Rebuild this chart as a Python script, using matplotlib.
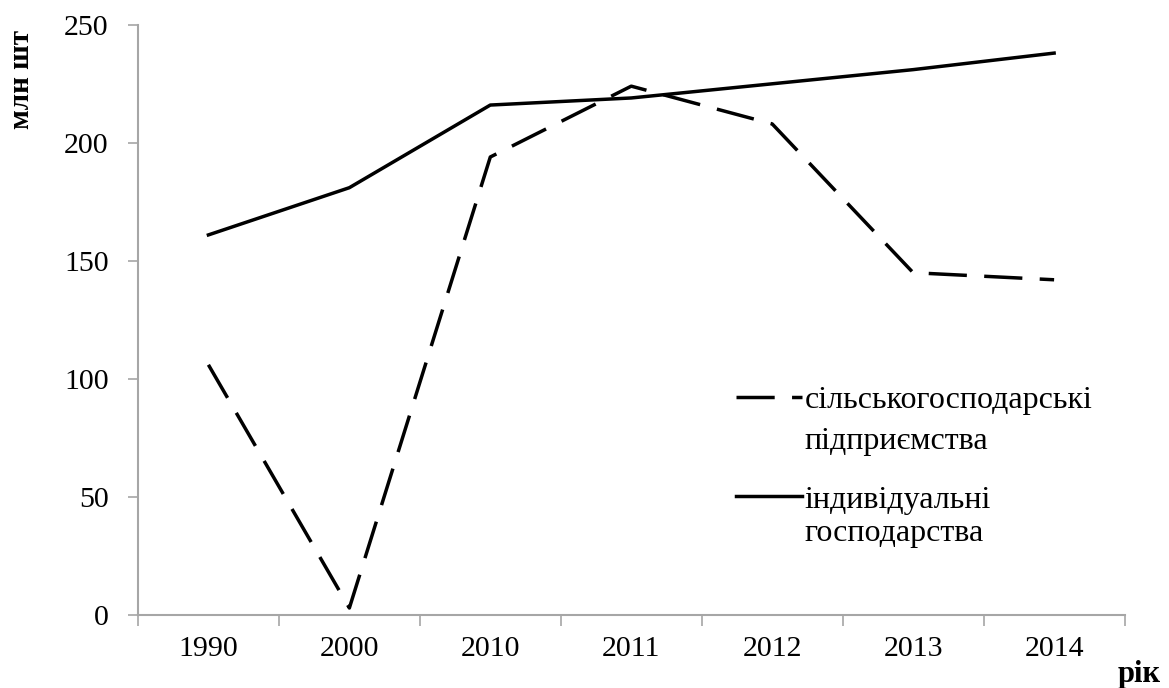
import matplotlib
matplotlib.use("Agg")
import matplotlib.pyplot as plt
from matplotlib.lines import Line2D
import numpy as np

years = ['1990', '2000', '2010', '2011', '2012', '2013', '2014']
agri = [106, 3, 194, 224, 208, 145, 142]        # сільськогосподарські підприємства
indiv = [161, 181, 216, 219, 225, 231, 238]     # індивідуальні господарства
yticks = [0, 50, 100, 150, 200, 250]

plt.rcParams['font.family'] = ['Liberation Serif', 'DejaVu Serif']
axis_col = '#a6a6a6'

fig = plt.figure(figsize=(11.69, 6.88), dpi=100)
ax = fig.add_axes([0.118, 0.106, 0.844, 0.858])

x = np.arange(len(years))
l1, = ax.plot(x, agri, color='black', lw=2.5, dashes=(11, 5))
l2, = ax.plot(x, indiv, color='black', lw=2.5)

ax.set_xlim(-0.5, len(years) - 0.5)
ax.set_ylim(0, 250)
ax.set_yticks(yticks)
ax.set_yticklabels([str(v) for v in yticks])

# category boundaries as major ticks, labels at category centres
ax.set_xticks(np.arange(-0.5, len(years), 1.0))
ax.set_xticklabels([])
ax.set_xticks(x, minor=True)
ax.set_xticklabels(years, minor=True)
ax.tick_params(axis='x', which='major', length=8, width=1.2, color=axis_col)
ax.tick_params(axis='x', which='minor', length=0, pad=15, labelsize=21.5)
ax.tick_params(axis='y', length=7, width=1.2, color=axis_col, pad=14, labelsize=21.5)

for s in ['top', 'right']:
    ax.spines[s].set_visible(False)
for s in ['left', 'bottom']:
    ax.spines[s].set_color(axis_col)
    ax.spines[s].set_linewidth(1.5)

# legend: handle sits on the first line of each two-line label
blank = Line2D([], [], linestyle='none')
leg1 = ax.legend([l1, blank], ['сільськогосподарські', 'підприємства'],
                 loc='upper left', bbox_to_anchor=(0.616, 0.463),
                 bbox_transform=fig.transFigure, frameon=False, fontsize=23,
                 handlelength=2.05, handletextpad=0.1, labelspacing=0.36, borderpad=0)
ax.add_artist(leg1)
ax.legend([l2, blank], ['індивідуальні', 'господарства'],
          loc='upper left', bbox_to_anchor=(0.616, 0.318),
          bbox_transform=fig.transFigure, frameon=False, fontsize=23,
          handlelength=2.05, handletextpad=0.1, labelspacing=0.14, borderpad=0)

fig.text(0.018, 0.884, 'млн шт', rotation=90, fontsize=21, fontweight='bold',
         ha='center', va='center')
fig.text(0.956, 0.009, 'рік', fontsize=22, fontweight='bold', ha='left', va='baseline')

fig.savefig('out.png', dpi=100)
